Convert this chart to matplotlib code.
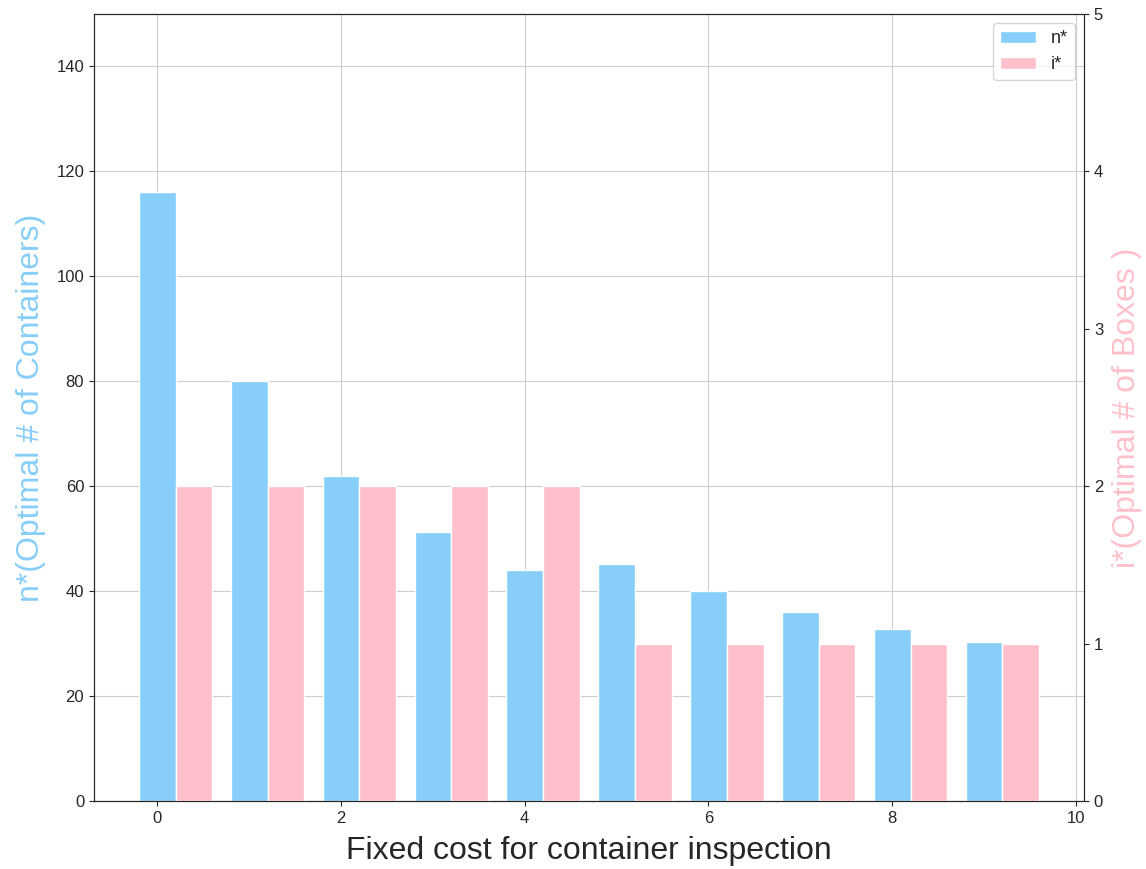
import numpy as np
import matplotlib
matplotlib.use("Agg")
import matplotlib.pyplot as plt
import seaborn as sns

fixed_cost = [0, 1, 2, 3, 4, 5, 6, 7, 8, 9]
n_star = [116, 80, 62, 51.3, 44, 45.2, 40, 36, 32.8, 30.3]
i_star = [2, 2, 2, 2, 2, 1, 1, 1, 1, 1]

sns.set_style("ticks")
plt.rcParams["font.family"] = ["Liberation Sans", "DejaVu Sans"]

bar_width = 0.4
x = np.array(fixed_cost)

fig, ax = plt.subplots(figsize=(11.46, 8.69), dpi=100)
fig.subplots_adjust(left=0.082, right=0.946, bottom=0.078, top=0.984)

# left axis: n*
ax.grid(True, color=".8")
ax.set_axisbelow(True)
n_bars = ax.bar(x, n_star, bar_width, color="lightskyblue", edgecolor="white", label="n*")
ax.set_ylim(0, 150)
ax.set_ylabel("n*(Optimal # of Containers)", color="lightskyblue", fontsize=23, labelpad=7.5)
ax.set_xlabel("Fixed cost for container inspection", fontsize=23, labelpad=7)
ax.tick_params(labelsize=12)

# right axis: i*
ax2 = ax.twinx()
i_bars = ax2.bar(x + bar_width, i_star, bar_width, color="pink", edgecolor="white", label="i*")
ax2.set_ylim(0, 5)
ax2.grid(False)
ax2.set_ylabel("i*(Optimal # of Boxes )", color="pink", fontsize=23, labelpad=6)
ax2.tick_params(labelsize=12)

ax2.legend([n_bars, i_bars], ["n*", "i*"], loc="upper right", fontsize=13)

fig.savefig("out.png", dpi=100)
